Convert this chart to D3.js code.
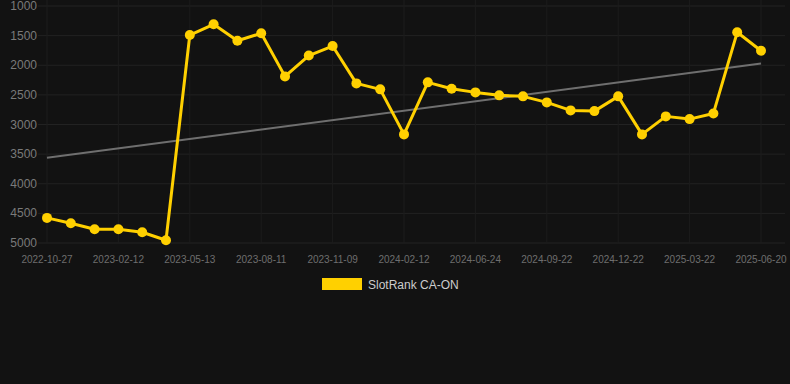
<!DOCTYPE html>
<meta charset="utf-8">
<style>
body { margin: 0; background: #121212; }
svg { display: block; font-family: "Liberation Sans", Arial, sans-serif; }
</style>
<body>
<script src="https://cdnjs.cloudflare.com/ajax/libs/d3/7.8.5/d3.min.js"></script>
<script>
// rank per sample date (lower is better, axis is reversed)
var dates = ["2022-10-27","2022-11-25","2022-12-24","2023-02-12","2023-03-13","2023-04-14",
	"2023-05-13","2023-06-12","2023-07-12","2023-08-11","2023-09-10","2023-10-10",
	"2023-11-09","2023-12-09","2024-01-10","2024-02-12","2024-03-24","2024-05-04",
	"2024-06-24","2024-07-24","2024-08-23","2024-09-22","2024-10-22","2024-11-21",
	"2024-12-22","2025-01-21","2025-02-20","2025-03-22","2025-04-21","2025-05-21","2025-06-20"];
var ranks = [4576, 4666, 4767, 4767, 4818, 4953,
	1490, 1309, 1586, 1461, 2188, 1836,
	1676, 2306, 2407, 3167, 2289, 2397,
	2458, 2508, 2525, 2627, 2762, 2774,
	2525, 3167, 2863, 2909, 2813, 1444, 1755];
var yTicks = [1000, 1500, 2000, 2500, 3000, 3500, 4000, 4500, 5000];
var seriesName = "SlotRank CA-ON";

var w = 790, h = 384;
var left = 38, right = 785;

var svg = d3.select("body").append("svg")
	.attr("width", w)
	.attr("height", h);

var x = d3.scalePoint()
	.domain(dates)
	.range([47, 761]);

var y = d3.scaleLinear()
	.domain([1000, 5000])
	.range([6, 243]);

// grid
svg.append("g").selectAll("line")
	.data(yTicks)
	.enter().append("line")
	.attr("x1", left).attr("x2", right)
	.attr("y1", d => y(d)).attr("y2", d => y(d))
	.attr("stroke", "#222")
	.attr("stroke-width", 1);

var xTicks = dates.filter((d, i) => i % 3 == 0);

svg.append("g").selectAll("line")
	.data(xTicks)
	.enter().append("line")
	.attr("x1", d => x(d)).attr("x2", d => x(d))
	.attr("y1", 0).attr("y2", 243)
	.attr("stroke", "#1c1c1c")
	.attr("stroke-width", 1);

// y labels
svg.append("g").selectAll("text")
	.data(yTicks)
	.enter().append("text")
	.attr("x", 37)
	.attr("y", d => y(d) + 4)
	.attr("text-anchor", "end")
	.attr("fill", "#7a7a7a")
	.style("font-size", "12px")
	.text(d => d);

// x labels
svg.append("g").selectAll("text")
	.data(xTicks)
	.enter().append("text")
	.attr("x", d => x(d))
	.attr("y", 263)
	.attr("text-anchor", "middle")
	.attr("fill", "#6e6e6e")
	.style("font-size", "10px")
	.text(d => d);

// trend (least squares over the points)
var n = ranks.length;
var mx = d3.mean(ranks, (d, i) => i);
var my = d3.mean(ranks);
var sxy = d3.sum(ranks, (d, i) => (i - mx) * (d - my));
var sxx = d3.sum(ranks, (d, i) => (i - mx) * (i - mx));
var slope = sxy / sxx;
var trend = [0, n - 1].map(i => ({ d: dates[i], v: my + slope * (i - mx) }));

svg.append("path")
	.datum(trend)
	.attr("d", d3.line().x(d => x(d.d)).y(d => y(d.v)))
	.attr("fill", "none")
	.attr("stroke", "#6f6f6f")
	.attr("stroke-width", 2);

// series
var pts = dates.map((d, i) => ({ d: d, v: ranks[i] }));

svg.append("path")
	.datum(pts)
	.attr("d", d3.line().x(d => x(d.d)).y(d => y(d.v)))
	.attr("fill", "none")
	.attr("stroke", "#ffd000")
	.attr("stroke-width", 3)
	.attr("stroke-linejoin", "round");

svg.append("g").selectAll("circle")
	.data(pts)
	.enter().append("circle")
	.attr("cx", d => x(d.d))
	.attr("cy", d => y(d.v))
	.attr("r", 5)
	.attr("fill", "#ffd000");

// legend
svg.append("rect")
	.attr("x", 322).attr("y", 278)
	.attr("width", 40).attr("height", 12)
	.attr("fill", "#ffd000");

svg.append("text")
	.attr("x", 368).attr("y", 288.5)
	.attr("fill", "#cccccc")
	.style("font-size", "12px")
	.text(seriesName);
</script>
</body>
